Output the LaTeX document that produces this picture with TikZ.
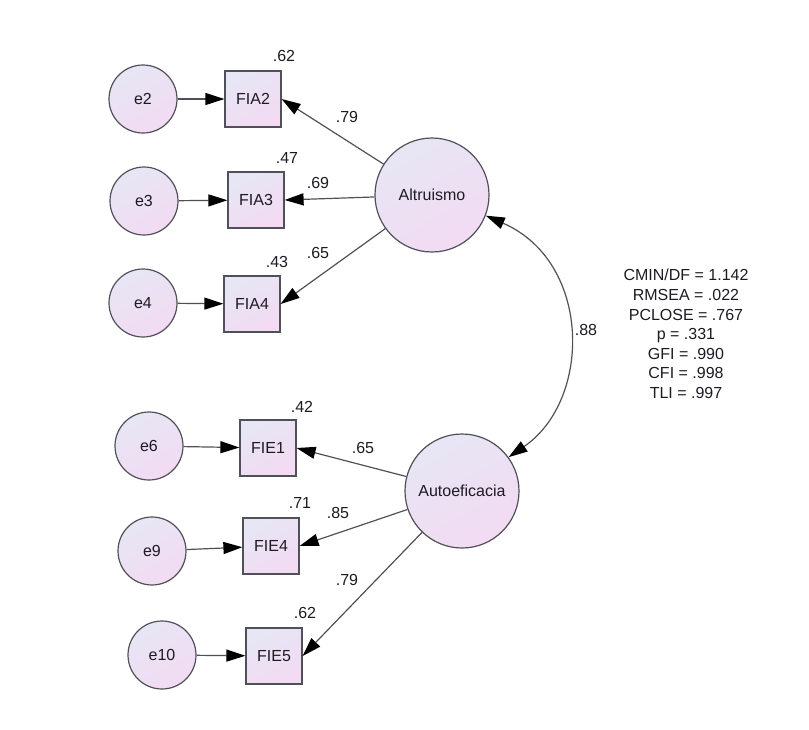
\documentclass[tikz,border=0pt]{standalone}
\usepackage{fontspec}
\setmainfont{Liberation Sans}
\usetikzlibrary{arrows.meta}
\definecolor{lavtop}{RGB}{231,230,244}
\definecolor{lavbot}{RGB}{242,219,243}
\definecolor{rim}{RGB}{80,80,88}
\definecolor{ink}{RGB}{30,26,36}

\begin{document}
\begin{tikzpicture}[x=1pt,y=-1pt,
  font=\fontsize{16}{19.6}\selectfont, text=ink,
  latent/.style={circle, draw=rim, line width=1.2pt, minimum size=114pt, inner sep=0pt, top color=lavtop, bottom color=lavbot, shading angle=30},
  errc/.style={circle, draw=rim, line width=1.2pt, minimum size=68pt, inner sep=0pt, top color=lavtop, bottom color=lavbot, shading angle=30},
  item/.style={rectangle, draw=rim, line width=1.2pt, minimum width=56pt, minimum height=56pt, inner sep=0pt, top color=lavtop, bottom color=lavbot, shading angle=30},
  load/.style={draw=rim, line width=1.2pt, -{Triangle[length=19pt,width=12pt,color=black]}}]
\useasboundingbox (0,0) rectangle (809,729);

% factors
\node[latent] (alt) at (432,195) {Altruismo};
\node[latent] (auto) at (462,491) {Autoeficacia};

% indicators
\node[item] (fia2) at (253,99) {FIA2};
\node[item] (fia3) at (256,200) {FIA3};
\node[item] (fia4) at (252,304) {FIA4};
\node[item] (fie1) at (268,448) {FIE1};
\node[item] (fie4) at (271,546) {FIE4};
\node[item] (fie5) at (274,656) {FIE5};

% errors
\node[errc] (e2) at (143,99) {e2};
\node[errc] (e3) at (144,201) {e3};
\node[errc] (e4) at (143,303) {e4};
\node[errc] (e6) at (149,446) {e6};
\node[errc] (e9) at (152,551) {e9};
\node[errc] (e10) at (162,655) {e10};

\draw[load] (e2) -- (fia2);
\draw[load] (e3) -- (fia3);
\draw[load] (e4) -- (fia4);
\draw[load] (e6) -- (fie1);
\draw[load] (e9) -- (fie4);
\draw[load] (e10) -- (fie5);

\draw[load] (alt) -- (fia2.east);
\draw[load] (alt) -- (fia3.east);
\draw[load] (alt) -- (fia4.east);
\draw[load] (auto) -- (fie1.east);
\draw[load] (auto) -- (fie4.east);
\draw[load] (auto) -- (fie5.east);

% covariance
\draw[draw=rim, line width=1.2pt, {Triangle[length=19pt,width=12pt,color=black]}-{Triangle[length=19pt,width=12pt,color=black]}]
  (alt.-21) .. controls (592,262) and (592,400) .. (auto.36);
\node (r88) at (586,330) {.88};

% weights and r2
\node (w79a) at (347,117) {.79};
\node (w69) at (318,183) {.69};
\node (w65a) at (318,253) {.65};
\node (w65b) at (363,448) {.65};
\node (w85) at (338,513) {.85};
\node (w79b) at (347,580) {.79};
\node (r62a) at (284,56) {.62};
\node (r47) at (287,158) {.47};
\node (r43) at (277,262) {.43};
\node (r42) at (302,407) {.42};
\node (r71) at (300,503) {.71};
\node (r62b) at (305,613) {.62};

% fit
\node[align=center] (fit) at (686,334) {CMIN/DF = 1.142\\RMSEA = .022\\PCLOSE = .767\\p = .331\\GFI = .990\\CFI = .998\\TLI = .997};
\end{tikzpicture}
\end{document}
